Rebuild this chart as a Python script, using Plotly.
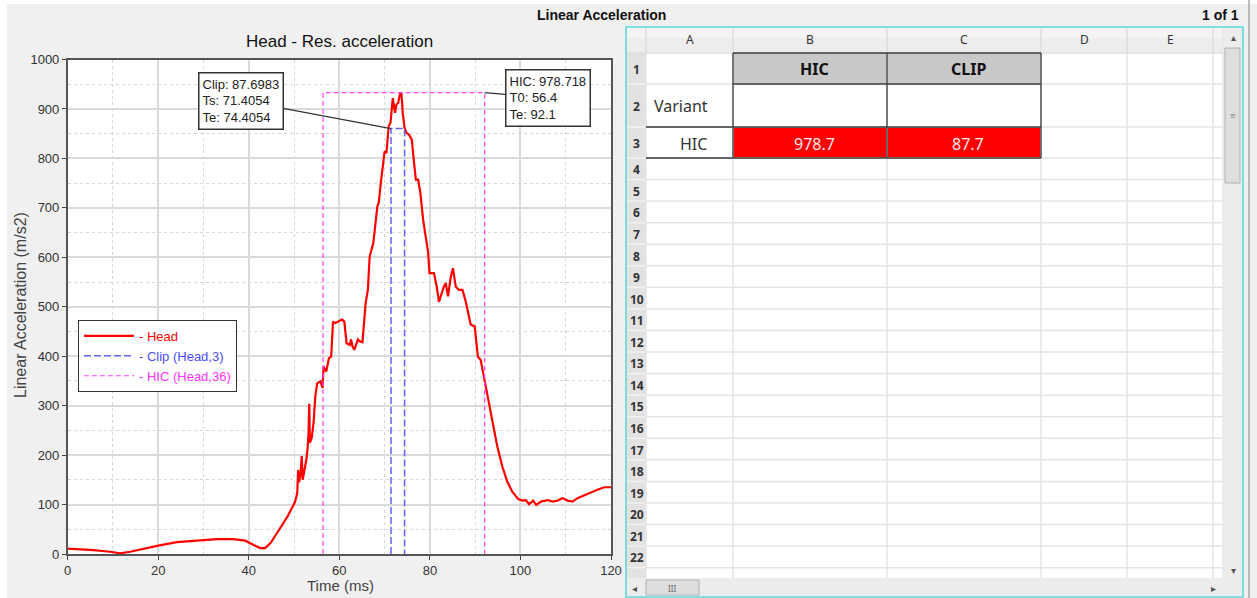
import plotly.graph_objects as go

# ---------------- data ----------------
time_ms = [0.0, 5.7, 9.4, 11.6, 13.8, 16.7, 20.0, 24.1, 29.3, 33.0,
           36.6, 39.2, 41.1, 42.5, 43.6, 44.8, 46.2, 48.5, 50.2, 50.7,
           50.9, 51.1, 51.4, 51.7, 51.9, 52.3, 52.7, 53.0, 53.2, 53.35,
           53.5, 53.9, 54.3, 54.7, 55.1, 55.8, 56.3, 56.5, 57.1, 57.7,
           58.2, 58.6, 59.1, 60.6, 61.1, 61.6, 62.3, 62.6, 62.9, 63.3,
           64.1, 64.5, 65.1, 65.8, 66.3, 66.7, 67.5, 68.4, 68.7, 69.2,
           69.8, 70.0, 70.4, 70.9, 71.3, 71.8, 72.3, 72.6, 73.0, 73.4,
           73.7, 74.0, 74.4, 74.8, 75.4, 76.0, 76.5, 76.9, 77.4, 77.9,
           78.5, 79.0, 79.6, 79.9, 80.9, 81.5, 82.0, 83.1, 83.5, 84.0,
           84.6, 85.1, 85.7, 86.4, 87.2, 87.9, 89.0, 89.9, 90.6, 91.2,
           92.1, 92.7, 93.8, 94.9, 96.0, 97.1, 98.2, 99.5, 100.5, 101.2,
           101.9, 102.8, 103.5, 104.5, 106.0, 107.1, 108.2, 109.3, 110.4, 111.5,
           112.6, 114.1, 115.6, 117.0, 118.5, 120.0]
head_acc = [11, 8, 4.5, 1.5, 4.5, 11, 17, 24, 28, 30,
            30, 27, 18, 12, 12, 22, 42, 75, 105, 123,
            170, 145, 160, 198, 150, 170, 190, 215, 245, 304,
            225, 235, 265, 320, 345, 349, 336, 379, 369, 396,
            399, 470, 467, 474, 470, 426, 423, 434, 420, 413,
            434, 430, 428, 507, 534, 602, 629, 703, 710, 754,
            804, 814, 811, 865, 872, 922, 892, 909, 912, 931,
            933, 892, 862, 852, 848, 838, 791, 757, 757, 730,
            676, 642, 610, 568, 568, 541, 510, 541, 548, 521,
            560, 578, 541, 534, 534, 511, 464, 460, 399, 393,
            352, 325, 271, 217, 177, 146, 126, 111, 108, 109,
            101, 108, 99, 106, 109, 106, 108, 113, 108, 106,
            113, 119, 126, 130, 135, 135]

clip_value = 87.6983
clip_ts = 71.4054
clip_te = 74.4054
clip_level = 860.3      # m/s2 level of the 3 ms clip
hic_value = 978.718
hic_t0 = 56.4
hic_te = 92.1

x_ticks = [0, 20, 40, 60, 80, 100, 120]
y_ticks = [0, 100, 200, 300, 400, 500, 600, 700, 800, 900, 1000]

sheet_cols = ["A", "B", "C", "D", "E"]
sheet_rows = list(range(1, 23))
sheet_headers = ["HIC", "CLIP"]
sheet_row_labels = ["Variant", "HIC"]
sheet_values = [978.7, 87.7]

# ---------------- figure geometry helpers ----------------
W, H = 1257, 598
def P(x):
    return x / W
def Q(y):
    return 1 - y / H

shapes = []
annos = []

def rect(x0, y0, x1, y1, fill, line=None, lw=0):
    shapes.append(dict(type="rect", xref="paper", yref="paper",
                       x0=P(x0), x1=P(x1), y0=Q(y1), y1=Q(y0),
                       fillcolor=fill, line=dict(width=lw, color=line or fill)))

def line(x0, y0, x1, y1, color, lw=1):
    shapes.append(dict(type="line", xref="paper", yref="paper",
                       x0=P(x0), x1=P(x1), y0=Q(y0), y1=Q(y1),
                       line=dict(width=lw, color=color)))

def text(x, y, s, size=12, color="#333", family="Noto Sans", xanchor="center", bold=False):
    annos.append(dict(xref="paper", yref="paper", x=P(x), y=Q(y), text=("<b>%s</b>" % s) if bold else s,
                      showarrow=False, xanchor=xanchor, yanchor="middle",
                      font=dict(size=size, color=color, family=family)))

CHART_FONT = "Liberation Sans, Arial, sans-serif"

# ---------------- traces ----------------
fig = go.Figure()
fig.add_trace(go.Scatter(x=time_ms, y=head_acc, mode="lines",
                         name="<span style='color:#ff0000'>- Head</span>",
                         line=dict(color="#ff0000", width=2.2)))
fig.add_trace(go.Scatter(x=[clip_ts, clip_ts, clip_te, clip_te], y=[0, clip_level, clip_level, 0],
                         mode="lines", name="<span style='color:#4b4bff'>- Clip (Head,3)</span>",
                         line=dict(color="#6161ff", width=1.5, dash="7px,3px")))
hic_top = max(head_acc)
fig.add_trace(go.Scatter(x=[hic_t0, hic_t0, hic_te, hic_te], y=[0, hic_top, hic_top, 0],
                         mode="lines", name="<span style='color:#ff33ff'>- HIC (Head,36)</span>",
                         line=dict(color="#ff44ff", width=1.2, dash="5px,3px")))

# annotations with leader lines
annos.append(dict(xref="x", yref="y", x=clip_ts, y=clip_level,
                  text="Clip: %.4f<br>Ts: %.4f<br>Te: %.4f" % (clip_value, clip_ts, clip_te),
                  align="left", showarrow=True, arrowhead=0, arrowwidth=1.3, arrowcolor="#333",
                  ax=-150, ay=-28, bgcolor="white", bordercolor="#333", borderwidth=1.5, borderpad=3,
                  font=dict(size=13, color="#222", family=CHART_FONT)))
annos.append(dict(xref="x", yref="y", x=hic_te, y=hic_top,
                  text="HIC: %.3f<br>T0: %.1f<br>Te: %.1f" % (hic_value, hic_t0, hic_te),
                  align="left", showarrow=True, arrowhead=0, arrowwidth=1.3, arrowcolor="#333",
                  ax=63, ay=5, bgcolor="white", bordercolor="#333", borderwidth=1.5, borderpad=3,
                  font=dict(size=13, color="#222", family=CHART_FONT)))

# chart texts
text(339, 42, "Head - Res. acceleration", size=17, color="#111", family=CHART_FONT)
text(340, 585, "Time (ms)", size=15, color="#444", family=CHART_FONT)
annos.append(dict(xref="paper", yref="paper", x=P(20), y=Q(305), text="Linear Acceleration (m/s2)",
                  textangle=-90, showarrow=False, xanchor="center", yanchor="middle",
                  font=dict(size=16, color="#444", family=CHART_FONT)))
text(601, 15, "Linear Acceleration", size=14, color="#111", family=CHART_FONT, bold=True)
text(1241, 15, "1 of 1", size=14, color="#111", family=CHART_FONT, bold=True, xanchor="right")

# ---------------- background strips ----------------
rect(0, 0, 7, 598, "#ffffff")
rect(0, 0, 1257, 4, "#ffffff")
line(1249, 0, 1249, 598, "#a8a8a8", 1.5)

# ---------------- spreadsheet ----------------
col_edges = [646, 733, 887, 1041, 1127, 1213, 1223]
row_edges = [53, 84, 127, 158] + [158 + 21.56 * k for k in range(1, 20)]
grid_bottom = 578
row_edges = [r for r in row_edges if r < grid_bottom]

rect(627, 28, 1223, grid_bottom, "#ffffff")
# column header
rect(627, 28, 1223, 53, "#ededed")
rect(627, 28, 1223, 38, "#f4f4f4")
# row header
rect(627, 53, 646, grid_bottom, "#e2e2e2")

# special cells
rect(733, 53, 1041, 84, "#c8c8c8")
rect(733, 127, 1041, 158, "#ff0000")

# light grid
for y in row_edges[1:]:
    line(646, y, 1223, y, "#e4e4e4", 1.5)
    line(627, y, 646, y, "#f2f2f2", 1.5)
for x in col_edges:
    line(x, 53, x, grid_bottom, "#e4e4e4", 1.5)
    line(x, 28, x, 53, "#d4d4d4", 1)
line(627, 53, 1223, 53, "#d8d8d8", 1)

# dark cell borders
dark = "#3a3a3a"
for x in [733, 887, 1041]:
    line(x, 53, x, 158, dark, 1.3)
line(733, 53, 1041, 53, dark, 1.3)
line(733, 84, 1041, 84, dark, 1.3)
line(646, 127, 1041, 127, dark, 1.3)
line(646, 158, 1041, 158, dark, 1.3)

# column letters
for i, c in enumerate(sheet_cols):
    text((col_edges[i] + col_edges[i + 1]) / 2, 40, c, size=12, color="#333")
# row numbers
for i, r in enumerate(sheet_rows):
    if i + 1 < len(row_edges):
        yc = (row_edges[i] + row_edges[i + 1]) / 2
    else:
        yc = row_edges[i] + 10.8
    text(636.5, yc + 1, str(r), size=12, color="#333", bold=True)

# cell texts
row_c = [(row_edges[0] + row_edges[1]) / 2, (row_edges[1] + row_edges[2]) / 2, (row_edges[2] + row_edges[3]) / 2]
colB = (col_edges[1] + col_edges[2]) / 2 + 4
colC = (col_edges[2] + col_edges[3]) / 2 + 4
text(colB, row_c[0] + 1, sheet_headers[0], size=16, color="#111", bold=True)
text(colC, row_c[0] + 1, sheet_headers[1], size=16, color="#111", bold=True)
text(652, row_c[1] + 1, sheet_row_labels[0], size=16, color="#333", xanchor="left")
text(693, row_c[2] + 1, sheet_row_labels[1], size=16, color="#333")
text(colB, row_c[2] + 1, "%.1f" % sheet_values[0], size=16, color="#ffe8e8")
text(colC, row_c[2] + 1, "%.1f" % sheet_values[1], size=16, color="#ffe8e8")

# horizontal scrollbar
rect(627, grid_bottom, 1223, 597, "#ececec")
rect(646, 580, 699, 595, "#dedede", "#b0b0b0", 1)
text(672, 588, "III", size=8, color="#666")
text(634, 588, "◂", size=10, color="#555")
text(1213, 588, "▸", size=10, color="#555")
# vertical scrollbar
rect(1223, 28, 1242, 597, "#ececec")
rect(1225, 48, 1240, 183, "#dedede", "#b0b0b0", 1)
text(1232.5, 115, "≡", size=10, color="#777")
text(1233, 37, "▴", size=10, color="#555")
text(1233, 570, "▾", size=10, color="#555")

# cyan frame
rect(626, 27, 1243, 597, "rgba(0,0,0,0)", "#5fd8d8", 1.6)

# ---------------- layout ----------------
fig.update_layout(
    width=W, height=H, autosize=False,
    margin=dict(l=0, r=0, t=0, b=0, pad=0, autoexpand=False),
    paper_bgcolor="#f0f0f0", plot_bgcolor="#ffffff",
    showlegend=True,
    legend=dict(x=P(78), y=Q(320), xanchor="left", yanchor="top",
                bgcolor="#ffffff", bordercolor="#333", borderwidth=1,
                font=dict(size=13, family=CHART_FONT), tracegroupgap=0, itemwidth=50),
    xaxis=dict(domain=[P(67.7), P(611)], range=[0, 120], tickvals=x_ticks, automargin=False,
               showline=True, mirror=True, linecolor="#555", linewidth=1.5,
               ticks="outside", ticklen=4, tickcolor="#444",
               showgrid=True, gridcolor="#dadada", gridwidth=1.5, zeroline=False,
               minor=dict(tick0=0, dtick=10, showgrid=True, gridcolor="#d6d6d6", griddash="dot", gridwidth=1),
               tickfont=dict(size=13, color="#333", family=CHART_FONT)),
    yaxis=dict(domain=[Q(554), Q(59.5)], range=[0, 1000], tickvals=y_ticks, automargin=False,
               showline=True, mirror=True, linecolor="#555", linewidth=1.5,
               ticks="outside", ticklen=4, tickcolor="#444",
               showgrid=True, gridcolor="#dadada", gridwidth=1.5, zeroline=False,
               minor=dict(tick0=0, dtick=50, showgrid=True, gridcolor="#d6d6d6", griddash="dot", gridwidth=1),
               tickfont=dict(size=13, color="#333", family=CHART_FONT)),
    shapes=shapes,
    annotations=annos,
)

post = ("document.documentElement.style.margin='0';document.body.style.margin='0';"
        "document.documentElement.style.overflow='hidden';document.body.style.overflow='hidden';"
        "var gd=document.getElementById('{plot_id}');gd.style.position='fixed';"
        "gd.style.left='0px';gd.style.top='0px';")
fig.write_html("out.html", config={"displayModeBar": False, "responsive": False}, post_script=post)
